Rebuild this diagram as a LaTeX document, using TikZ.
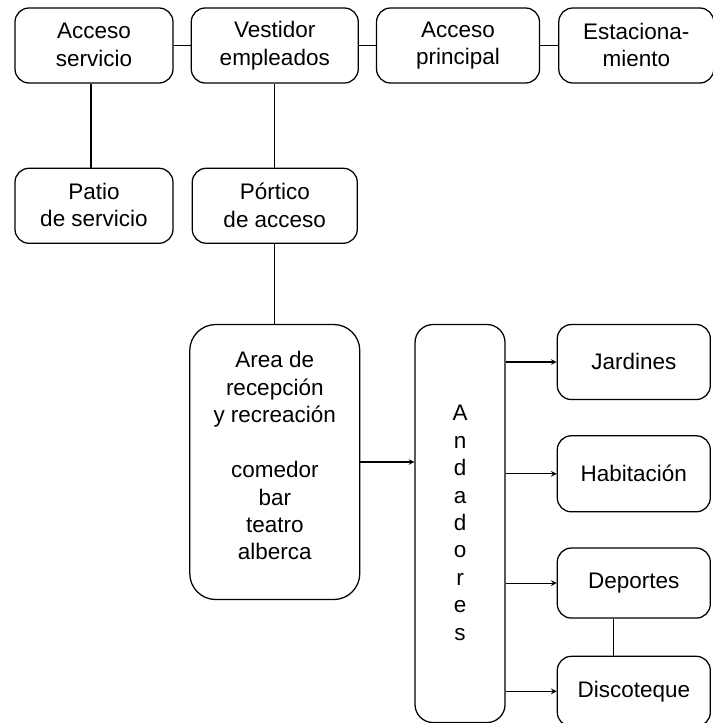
\documentclass[tikz,border=0pt]{standalone}
\usepackage{fontspec}
\setmainfont{Liberation Sans}
\usepackage{tikz}
\usetikzlibrary{arrows,positioning}
\tikzset{
  bx/.style={rectangle,draw,line width=0.9pt,rounded corners=0.35cm,minimum height=1.875cm,align=center,inner sep=0pt,font=\fontsize{16}{19.5}\selectfont,execute at begin node={\rule{0pt}{11pt}},execute at end node={\rule[-1pt]{0pt}{1pt}}},
  ln/.style={line width=0.9pt},
  arr/.style={->,>=stealth,line width=0.8pt},
}
\begin{document}
\begin{tikzpicture}
  \useasboundingbox (0,0) rectangle (17.8,-18.075);
  \node[bx,minimum width=3.95cm] (as) at (2.35,-1.1375) {Acceso\\servicio};
  \node[bx,minimum width=4.175cm,right=0.425cm of as] (ve) {Vestidor\\empleados};
  \node[bx,minimum width=4.075cm,right=0.425cm of ve] (ap) {Acceso\\principal};
  \node[bx,minimum width=3.875cm,right=0.45cm of ap] (es) {Estaciona-\\miento};
  \node[bx,minimum width=3.95cm,below=2.1cm of as] (pa) {Patio\\de servicio};
  \node[bx,minimum width=4.125cm,below=2.1cm of ve] (po) {Pórtico\\de acceso};
  \node[bx,minimum width=4.25cm,minimum height=6.875cm,rounded corners=0.65cm,below=2cm of po,execute at end node={\rule[-9pt]{0pt}{9pt}}] (ar) {Area de\\recepción\\y recreación\\[0.69cm]comedor\\bar\\teatro\\alberca};
  \node[bx,minimum width=2.25cm,minimum height=9.95cm,rounded corners=0.45cm,right=1.35cm of ar.north east,anchor=north west] (an) {A\\n\\d\\a\\d\\o\\r\\e\\s};
  \node[bx,minimum width=3.825cm,right=1.275cm of an.north east,anchor=north west] (ja) {Jardines};
  \node[bx,minimum width=3.825cm,minimum height=1.9cm,below=0.875cm of ja] (ha) {Habitación};
  \node[bx,minimum width=3.825cm,minimum height=1.75cm,below=0.875cm of ha] (de) {Deportes};
  \node[bx,minimum width=3.825cm,minimum height=1.75cm,below=0.925cm of de] (di) {Discoteque};
  \draw[ln] (as) -- (ve);
  \draw[ln] (ve) -- (ap);
  \draw[ln] (ap) -- (es);
  \draw[ln] ([xshift=-0.075cm]as.south) -- ([xshift=-0.075cm]pa.north);
  \draw[ln] (ve.south) -- (ve.south |- po.north);
  \draw[ln] (po.south) -- (po.south |- ar.north);
  \draw[ln] ([xshift=-0.5cm]de.south) -- ([xshift=-0.5cm]di.north);
  \draw[arr] (ar.east) -- (ar.east -| an.west);
  \draw[arr] (an.east |- ja) -- (ja);
  \draw[arr] (an.east |- ha) -- (ha);
  \draw[arr] (an.east |- de) -- (de);
  \draw[arr] (an.east |- di) -- (di);
\end{tikzpicture}
\end{document}
